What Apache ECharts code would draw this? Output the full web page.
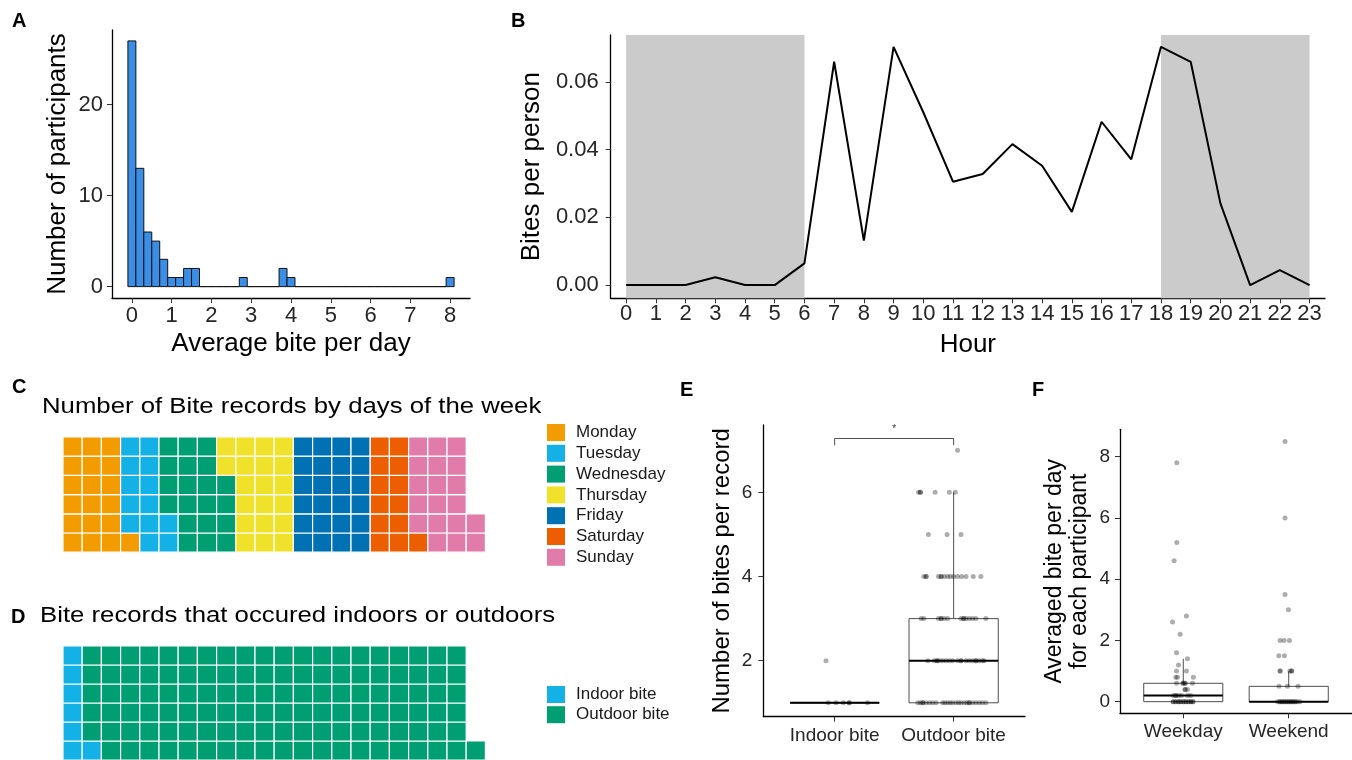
<!DOCTYPE html>
<html>
<head>
<meta charset="utf-8">
<script src="https://cdn.jsdelivr.net/npm/echarts@6.0.0/dist/echarts.min.js"></script>
<style>
html,body{margin:0;padding:0;background:#ffffff;}
#chart{width:1352px;height:760px;}
</style>
</head>
<body>
<div id="chart"></div>
<script>
const FONT = "'Liberation Sans', Arial, Helvetica, sans-serif";

// ---------- Panel A: histogram of average bite per day ----------
const histBinCentres = [0,0.2,0.4,0.6,0.8,1.0,1.2,1.4,1.6,1.8,2.0,2.2,2.4,2.6,2.8,3.0,3.2,3.4,3.6,3.8,4.0,4.2,4.4,4.6,4.8,5.0,5.2,5.4,5.6,5.8,6.0,6.2,6.4,6.6,6.8,7.0,7.2,7.4,7.6,7.8,8.0];
const histCounts = [27,13,6,5,3,1,1,2,2,0, 0,0,0,0,1,0,0,0,0,2, 1,0,0,0,0,0,0,0,0,0, 0,0,0,0,0,0,0,0,0,0, 1];
const histBinWidth = 0.2;
const histXTicks = [0,1,2,3,4,5,6,7,8];
const histYTicks = [0,10,20];

// ---------- Panel B: bites per person by hour ----------
const hours = [0,1,2,3,4,5,6,7,8,9,10,11,12,13,14,15,16,17,18,19,20,21,22,23];
const bitesPerPerson = [0,0,0,0.0023,0,0,0.0064,0.0659,0.0131,0.0703,0.0510,0.0305,0.0328,0.0416,0.0352,0.0216,0.0482,0.0371,0.0703,0.0659,0.0241,0,0.0044,0];
const nightPeriods = [[0,6],[18,23]];
const biteTicks = [0,0.02,0.04,0.06];

// ---------- Panel C: bite records by day of week (waffle) ----------
const dayNames = ['Monday','Tuesday','Wednesday','Thursday','Friday','Saturday','Sunday'];
const dayCounts = [19,13,20,20,24,13,19];
const dayColors = ['#F39C00','#14B1E7','#009E73','#F0E22A','#0071B3','#EC5E00','#E07BAA'];

// ---------- Panel D: indoor vs outdoor (waffle) ----------
const locNames = ['Indoor bite','Outdoor bite'];
const locCounts = [7,120];
const locColors = ['#14B1E7','#009E73'];

// ---------- Panel E: bites per record ----------
const eCategories = ['Indoor bite','Outdoor bite'];
const eBoxIndoor = [1,1,1,1,1];      // min, q1, median, q3, max
const eBoxOutdoor = [1,1,2,3,6];
const eTicks = [2,4,6];
// [value, horizontal jitter in category units]
const eIndoorPoints = [[2,-0.073],[1,-0.054],[1,0.011],[1,0.072],[1,0.122],[1,0.122],[1,0.276]];
const eOutdoorPoints = [
  [7,0.033],
  [6,-0.295],[6,-0.279],[6,-0.279],[6,-0.156],[6,-0.036],[6,0.014],
  [5,-0.212],[5,-0.055],[5,0.062],
  [4,-0.251],[4,-0.231],[4,-0.231],[4,-0.128],[4,-0.105],[4,-0.105],[4,-0.078],[4,-0.050],[4,-0.028],[4,0],[4,0.033],[4,0.067],[4,0.104],[4,0.165],[4,0.229],
  [3,-0.273],[3,-0.251],[3,-0.128],[3,-0.105],[3,-0.105],[3,-0.078],[3,-0.050],[3,0.062],[3,0.084],[3,0.084],[3,0.104],[3,0.131],[3,0.159],[3,0.187],[3,0.271],
  [2,-0.217],[2,-0.161],[2,-0.139],[2,-0.139],[2,-0.120],[2,-0.092],[2,-0.064],[2,-0.036],[2,-0.008],[2,0.033],[2,0.062],[2,0.062],[2,0.104],[2,0.131],[2,0.159],[2,0.187],[2,0.187],[2,0.215],[2,0.242],[2,0.257],
  [1,-0.301],[1,-0.278],[1,-0.259],[1,-0.259],[1,-0.231],[1,-0.203],[1,-0.176],[1,-0.147],[1,-0.092],[1,-0.072],[1,-0.050],[1,-0.028],[1,-0.008],[1,0.020],[1,0.042],[1,0.062],[1,0.089],[1,0.112],[1,0.131],[1,0.131],[1,0.159],[1,0.187],[1,0.215],[1,0.242],[1,0.271]
];
const eSignif = [1,2,7.28,7.12,7.50];   // from group, to group, bracket level, tip level, label level
const eSignifLabel = '*';

// ---------- Panel F: averaged bite per day per participant ----------
const fCategories = ['Weekday','Weekend'];
const fBoxWeekday = [0,0,0.2,0.6,1.4];
const fBoxWeekend = [0,0,0,0.5,1.0];
const fTicks = [0,2,4,6,8];
const fWeekdayPoints = [
  [7.8,-0.061],[5.2,-0.061],[4.6,-0.087],[2.8,0.030],[2.6,-0.102],[2.2,-0.030],[1.6,-0.064],[1.4,0.040],[1.2,-0.045],
  [1.0,-0.064],[1.0,0.030],
  [0.8,-0.071],[0.8,-0.055],[0.8,0.096],
  [0.6,-0.064],[0.6,-0.002],[0.6,-0.002],[0.6,0.017],[0.6,0.017],[0.6,0.087],
  [0.4,0.017],[0.4,0.017],[0.4,0.040],
  [0.2,-0.096],[0.2,-0.071],[0.2,-0.071],[0.2,-0.045],[0.2,-0.017],[0.2,0.040],[0.2,0.071],
  [0,-0.096],[0,-0.096],[0,-0.071],[0,-0.071],[0,-0.045],[0,-0.045],[0,-0.024],[0,-0.024],[0,0.002],[0,0.002],[0,0.024],[0,0.024],[0,0.049],[0,0.049],[0,0.071],[0,0.071],[0,0.092],[0,0.092]
];
const fWeekendPoints = [
  [8.5,-0.035],[6.0,-0.035],[3.5,-0.035],[3.0,-0.003],
  [2.0,-0.082],[2.0,-0.044],[2.0,0.007],
  [1.5,-0.094],[1.5,-0.041],
  [1.0,-0.082],[1.0,-0.082],[1.0,0.012],[1.0,0.028],[1.0,0.028],
  [0.5,-0.092],[0.5,-0.012],[0.5,0.088],
  [0,-0.107],[0,-0.085],[0,-0.085],[0,-0.064],[0,-0.064],[0,-0.042],[0,-0.042],[0,-0.021],[0,-0.021],[0,0],[0,0],[0,0.021],[0,0.021],[0,0.042],[0,0.042],[0,0.064],[0,0.064],[0,0.085],[0,0.107]
];

// ================= helpers =================
function valueAxis(o) {
  return {
    type: 'value', gridIndex: o.grid, min: o.min, max: o.max,
    axisLine: {show: true, onZero: false, lineStyle: {color: '#000', width: 1.3}},
    axisTick: {show: true, length: 5, customValues: o.ticks, lineStyle: {color: '#333', width: 1}},
    axisLabel: {show: true, customValues: o.ticks, formatter: o.fmt, margin: o.margin,
      fontSize: o.fs, color: '#262626', fontFamily: FONT},
    splitLine: {show: false},
    name: o.name, nameLocation: 'middle', nameGap: o.gap,
    nameTextStyle: {fontSize: o.nfs, color: '#000', fontFamily: FONT, lineHeight: o.nlh || o.nfs}
  };
}
function hiddenAxis(grid, min, max) {
  return {type: 'value', gridIndex: grid, min: min, max: max, show: false,
    axisLine: {show: false}, axisTick: {show: false}, axisLabel: {show: false}, splitLine: {show: false}};
}
function waffleCells(counts, nrow) {
  const out = counts.map(() => []);
  let k = 0;
  counts.forEach((n, i) => {
    for (let j = 0; j < n; j++, k++) out[i].push([Math.floor(k / nrow), k % nrow]);
  });
  return out;
}
function waffleRender(params, api) {
  const c = api.value(0), r = api.value(1);
  const p0 = api.coord([c, r + 1]), p1 = api.coord([c + 1, r]);
  return {type: 'rect', shape: {x: p0[0], y: p0[1], width: p1[0] - p0[0], height: p1[1] - p0[1]},
    style: {fill: api.visual('color'), stroke: '#ffffff', lineWidth: 1.2}};
}
const BOX_HALF = 0.375;
function boxRender(params, api) {
  const x = api.value(0), mn = api.value(1), q1 = api.value(2), md = api.value(3), q3 = api.value(4), mx = api.value(5);
  const tl = api.coord([x - BOX_HALF, q3]), br = api.coord([x + BOX_HALF, q1]);
  const cq3 = api.coord([x, q3]), cmx = api.coord([x, mx]), cq1 = api.coord([x, q1]), cmn = api.coord([x, mn]);
  const ml = api.coord([x - BOX_HALF, md]), mr = api.coord([x + BOX_HALF, md]);
  const edge = {stroke: '#4d4d4d', lineWidth: 1, fill: null};
  return {type: 'group', children: [
    {type: 'line', shape: {x1: cq3[0], y1: cq3[1], x2: cmx[0], y2: cmx[1]}, style: edge},
    {type: 'line', shape: {x1: cq1[0], y1: cq1[1], x2: cmn[0], y2: cmn[1]}, style: edge},
    {type: 'rect', shape: {x: tl[0], y: tl[1], width: br[0] - tl[0], height: br[1] - tl[1]}, style: {stroke: '#4d4d4d', lineWidth: 1, fill: 'rgba(255,255,255,0)'}},
    {type: 'line', shape: {x1: ml[0], y1: ml[1], x2: mr[0], y2: mr[1]}, style: {stroke: '#000', lineWidth: 2}}
  ]};
}
function jitterData(points, cat) { return points.map(p => [cat + p[1], p[0]]); }
const pointStyle = {color: 'rgba(0,0,0,0.4)'};

const cCells = waffleCells(dayCounts, 6);
const dCells = waffleCells(locCounts, 6);

const option = {
  animation: false,
  backgroundColor: '#ffffff',
  textStyle: {fontFamily: FONT},
  grid: [
    {left: 112, top: 30, width: 358, height: 268},
    {left: 610.7, top: 35, width: 714.3, height: 263.3},
    {left: 63, top: 437, width: 422.4, height: 115.2},
    {left: 63, top: 646, width: 422.4, height: 115.2},
    {left: 763.3, top: 425, width: 261.7, height: 291.7},
    {left: 1120, top: 429.3, width: 232, height: 284}
  ],
  xAxis: [
    valueAxis({grid: 0, min: -0.5, max: 8.5, ticks: histXTicks, margin: 7, fs: 22, name: 'Average bite per day', gap: 33, nfs: 26}),
    valueAxis({grid: 1, min: -0.52, max: 23.52, ticks: hours, margin: 5, fs: 22, name: 'Hour', gap: 34, nfs: 26}),
    hiddenAxis(2, 0, 22),
    hiddenAxis(3, 0, 22),
    valueAxis({grid: 4, min: 0.4, max: 2.6, ticks: [1, 2], fmt: v => eCategories[Math.round(v) - 1], margin: 10, fs: 19}),
    valueAxis({grid: 5, min: 0.4, max: 2.6, ticks: [1, 2], fmt: v => fCategories[Math.round(v) - 1], margin: 9, fs: 19})
  ],
  yAxis: [
    valueAxis({grid: 0, min: -1.25, max: 28.2, ticks: histYTicks, margin: 9, fs: 22, name: 'Number of participants', gap: 41, nfs: 26}),
    valueAxis({grid: 1, min: -0.0039, max: 0.0738, ticks: biteTicks, fmt: v => v.toFixed(2), margin: 12, fs: 22, name: 'Bites per person', gap: 63, nfs: 26}),
    hiddenAxis(2, 0, 6),
    hiddenAxis(3, 0, 6),
    valueAxis({grid: 4, min: 0.67, max: 7.6, ticks: eTicks, margin: 11, fs: 19, name: 'Number of bites per record', gap: 29, nfs: 24}),
    valueAxis({grid: 5, min: -0.38, max: 8.895, ticks: fTicks, margin: 10, fs: 19, name: 'Averaged bite per day\nfor each participant', gap: 28, nfs: 23, nlh: 25})
  ],
  legend: [
    {data: dayNames, left: 542, top: 419, orient: 'vertical', icon: 'rect', itemWidth: 18, itemHeight: 17, itemGap: 3.8,
      selectedMode: false, textStyle: {fontSize: 17, lineHeight: 17, color: '#1a1a1a', fontFamily: FONT, padding: [0, 0, 0, 6]}},
    {data: locNames, left: 542, top: 681, orient: 'vertical', icon: 'rect', itemWidth: 18, itemHeight: 17, itemGap: 3.2,
      selectedMode: false, textStyle: {fontSize: 17, lineHeight: 17, color: '#1a1a1a', fontFamily: FONT, padding: [0, 0, 0, 6]}}
  ],
  series: [].concat(
    [{
      type: 'custom', name: 'histogram', xAxisIndex: 0, yAxisIndex: 0, silent: true,
      data: histBinCentres.map((c, i) => [c, histCounts[i]]),
      renderItem: (params, api) => {
        const c = api.value(0), n = api.value(1);
        const p0 = api.coord([c - histBinWidth / 2, n]);
        const p1 = api.coord([c + histBinWidth / 2, 0]);
        return {type: 'rect', shape: {x: p0[0], y: p0[1], width: p1[0] - p0[0], height: p1[1] - p0[1]},
          style: {fill: '#3A8EE6', stroke: '#111', lineWidth: 1}};
      }
    },
    {
      type: 'custom', name: 'night', xAxisIndex: 1, yAxisIndex: 1, silent: true, z: 1,
      data: nightPeriods,
      renderItem: (params, api) => {
        const x0 = api.coord([api.value(0), 0])[0], x1 = api.coord([api.value(1), 0])[0];
        const cs = params.coordSys;
        return {type: 'rect', shape: {x: x0, y: cs.y, width: x1 - x0, height: cs.height}, style: {fill: '#CBCBCB'}};
      }
    },
    {
      type: 'line', name: 'bites', xAxisIndex: 1, yAxisIndex: 1, silent: true, z: 3,
      data: hours.map((h, i) => [h, bitesPerPerson[i]]),
      showSymbol: false, symbol: 'none', lineStyle: {color: '#000', width: 2}
    }],
    dayNames.map((name, i) => ({
      type: 'custom', name: name, xAxisIndex: 2, yAxisIndex: 2, silent: true,
      itemStyle: {color: dayColors[i]}, data: cCells[i], renderItem: waffleRender
    })),
    locNames.map((name, i) => ({
      type: 'custom', name: name, xAxisIndex: 3, yAxisIndex: 3, silent: true,
      itemStyle: {color: locColors[i]}, data: dCells[i], renderItem: waffleRender
    })),
    [{
      type: 'custom', name: 'eBox', xAxisIndex: 4, yAxisIndex: 4, silent: true, z: 2,
      data: [[1].concat(eBoxIndoor), [2].concat(eBoxOutdoor)], renderItem: boxRender
    },
    {
      type: 'custom', name: 'eSig', xAxisIndex: 4, yAxisIndex: 4, silent: true, z: 2,
      data: [eSignif],
      renderItem: (params, api) => {
        const a = api.value(0), b = api.value(1), y = api.value(2), t = api.value(3), ly = api.value(4);
        const p = [api.coord([a, t]), api.coord([a, y]), api.coord([b, y]), api.coord([b, t])];
        const lp = api.coord([(a + b) / 2, ly]);
        return {type: 'group', children: [
          {type: 'polyline', shape: {points: p}, style: {stroke: '#4d4d4d', lineWidth: 1, fill: null}},
          {type: 'text', x: lp[0], y: lp[1], style: {text: eSignifLabel, fontSize: 10, fontFamily: FONT, fill: '#333', align: 'center', verticalAlign: 'middle'}}
        ]};
      }
    },
    {type: 'scatter', name: 'eIn', xAxisIndex: 4, yAxisIndex: 4, silent: true, z: 3, symbolSize: 5, itemStyle: pointStyle, data: jitterData(eIndoorPoints, 1)},
    {type: 'scatter', name: 'eOut', xAxisIndex: 4, yAxisIndex: 4, silent: true, z: 3, symbolSize: 5, itemStyle: pointStyle, data: jitterData(eOutdoorPoints, 2)},
    {
      type: 'custom', name: 'fBox', xAxisIndex: 5, yAxisIndex: 5, silent: true, z: 2,
      data: [[1].concat(fBoxWeekday), [2].concat(fBoxWeekend)], renderItem: boxRender
    },
    {type: 'scatter', name: 'fWd', xAxisIndex: 5, yAxisIndex: 5, silent: true, z: 3, symbolSize: 5, itemStyle: pointStyle, data: jitterData(fWeekdayPoints, 1)},
    {type: 'scatter', name: 'fWe', xAxisIndex: 5, yAxisIndex: 5, silent: true, z: 3, symbolSize: 5, itemStyle: pointStyle, data: jitterData(fWeekendPoints, 2)}
    ]
  ),
  graphic: [
    {type: 'text', x: 12, y: 21.5, style: {text: 'A', font: 'bold 20px ' + FONT, fill: '#000', verticalAlign: 'middle'}},
    {type: 'text', x: 511, y: 21, style: {text: 'B', font: 'bold 20px ' + FONT, fill: '#000', verticalAlign: 'middle'}},
    {type: 'text', x: 12, y: 387.5, style: {text: 'C', font: 'bold 20px ' + FONT, fill: '#000', verticalAlign: 'middle'}},
    {type: 'text', x: 11, y: 617, style: {text: 'D', font: 'bold 20px ' + FONT, fill: '#000', verticalAlign: 'middle'}},
    {type: 'text', x: 680, y: 390, style: {text: 'E', font: 'bold 20px ' + FONT, fill: '#000', verticalAlign: 'middle'}},
    {type: 'text', x: 1032, y: 390, style: {text: 'F', font: 'bold 20px ' + FONT, fill: '#000', verticalAlign: 'middle'}},
    {type: 'text', x: 42, y: 407, scaleX: 1.17, style: {text: 'Number of Bite records by days of the week', font: '22px ' + FONT, fill: '#000', verticalAlign: 'middle'}},
    {type: 'text', x: 40, y: 616, scaleX: 1.17, style: {text: 'Bite records that occured indoors or outdoors', font: '22px ' + FONT, fill: '#000', verticalAlign: 'middle'}}
  ]
};

const chart = echarts.init(document.getElementById('chart'), null, {renderer: 'canvas', width: 1352, height: 760});
chart.setOption(option);
</script>
</body>
</html>
